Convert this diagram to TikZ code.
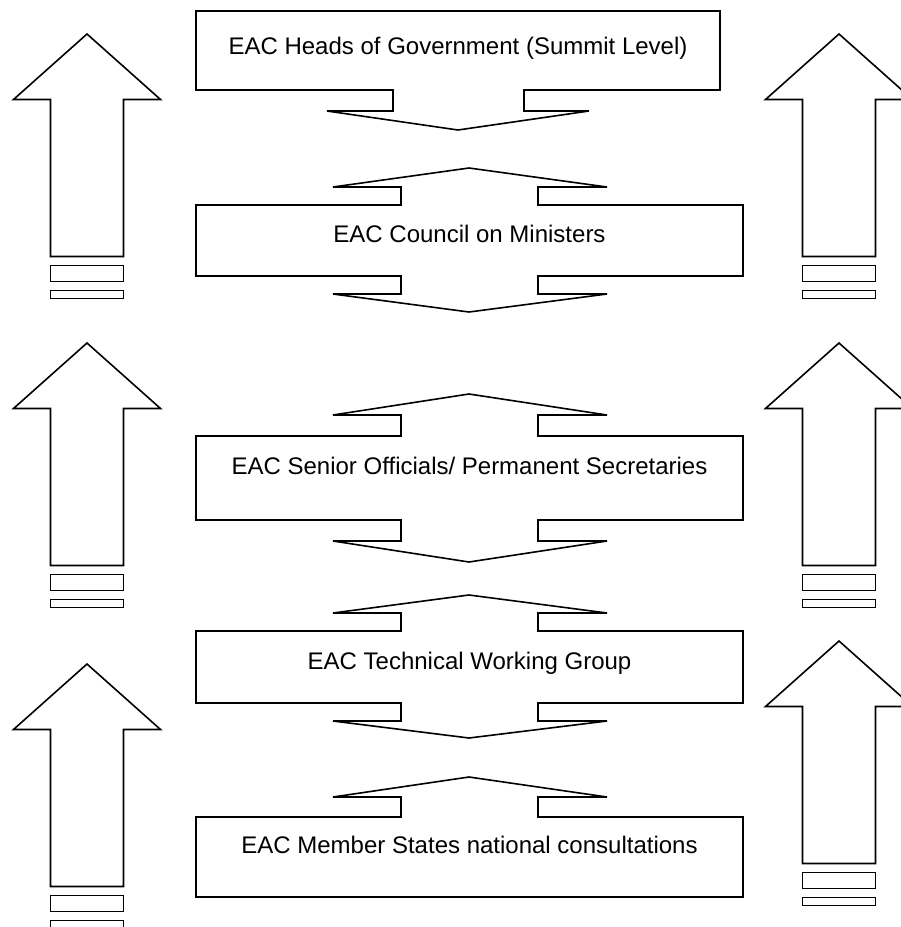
\documentclass[tikz,border=0pt]{standalone}
\usepackage{fontspec}
\setmainfont{Liberation Sans}
\begin{document}
\begin{tikzpicture}[x=1pt,y=-1pt]
  \tikzset{block/.style = {draw=black, line width=1.6pt, fill=white}}
  \tikzset{label/.style = {anchor=base, inner sep=0pt, font=\fontsize{24}{28}\selectfont}}

  \useasboundingbox (0,0) rectangle (901,927);

  % Side arrows (centre x / tip y)
  \foreach \cx/\ty in {87/34, 839/34, 87/343, 839/343, 87/664, 839/641}{
    \draw[block] (\cx,\ty) -- (\cx+73.5,\ty+65.5) -- (\cx+36.5,\ty+65.5) -- (\cx+36.5,\ty+222.5)
      -- (\cx-36.5,\ty+222.5) -- (\cx-36.5,\ty+65.5) -- (\cx-73.5,\ty+65.5) -- cycle;
    \draw[block] (\cx-36.5,\ty+231.5) rectangle (\cx+36.5,\ty+247.5);
    \draw[block] (\cx-36.5,\ty+256.5) rectangle (\cx+36.5,\ty+264.5);
  }

  % Heads of Government
  \draw[block] (196,11) -- (720,11) -- (720,90) -- (524,90) -- (524,111) -- (589,111) -- (458,130)
    -- (327,111) -- (393,111) -- (393,90) -- (196,90) -- cycle;
  \node[label] (heads) at (458,54) {EAC Heads of Government (Summit Level)};

  % Council
  \draw[block] (196,205) -- (401,205) -- (401,187) -- (333,187) -- (469,168) -- (607,187) -- (538,187)
    -- (538,205) -- (743,205) -- (743,276) -- (538,276) -- (538,294) -- (607,294) -- (469,312)
    -- (333,294) -- (401,294) -- (401,276) -- (196,276) -- cycle;
  \node[label] (council) at (469.5,242) {EAC Council on Ministers};

  % Senior Officials
  \draw[block] (196,436) -- (401,436) -- (401,415) -- (333,415) -- (469,394) -- (607,415) -- (538,415)
    -- (538,436) -- (743,436) -- (743,520) -- (538,520) -- (538,541) -- (607,541) -- (469,562)
    -- (333,541) -- (401,541) -- (401,520) -- (196,520) -- cycle;
  \node[label] (senior) at (469.5,474) {EAC Senior Officials/ Permanent Secretaries};

  % Technical Working Group
  \draw[block] (196,631) -- (401,631) -- (401,613) -- (333,613) -- (469,595) -- (607,613) -- (538,613)
    -- (538,631) -- (743,631) -- (743,703) -- (538,703) -- (538,721) -- (607,721) -- (469,738)
    -- (333,721) -- (401,721) -- (401,703) -- (196,703) -- cycle;
  \node[label] (technical) at (469.5,669) {EAC Technical Working Group};

  % Member States
  \draw[block] (196,817) -- (401,817) -- (401,797) -- (333,797) -- (469,777) -- (607,797) -- (538,797)
    -- (538,817) -- (743,817) -- (743,897) -- (196,897) -- cycle;
  \node[label] (members) at (469.5,853) {EAC Member States national consultations};
\end{tikzpicture}
\end{document}
